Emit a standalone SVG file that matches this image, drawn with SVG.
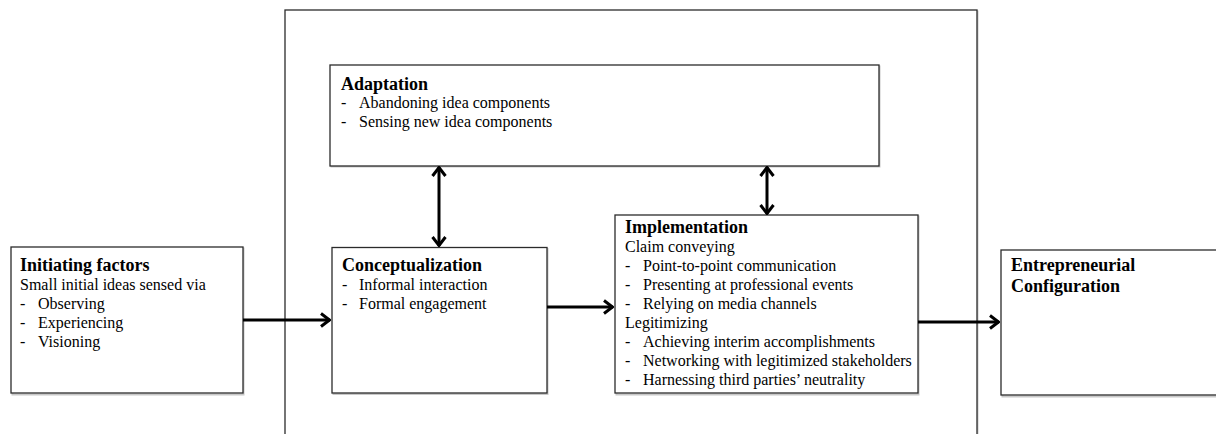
<svg xmlns="http://www.w3.org/2000/svg" width="1216" height="434" viewBox="0 0 1216 434">
<defs>
<style>
.box{fill:#fff;stroke:#2b2b2b;stroke-width:1.3}
.shadow{fill:none;stroke:#c8c8c8;stroke-width:2}
.t{font-family:"Liberation Serif","Times New Roman",serif;font-size:18px;font-weight:bold;fill:#000}
.b{font-family:"Liberation Serif","Times New Roman",serif;font-size:16px;fill:#000}
.c{stroke:#000;stroke-width:3;fill:none}
</style>
<marker id="ah" viewBox="0 0 12 16" refX="11" refY="8" markerWidth="12" markerHeight="16" markerUnits="userSpaceOnUse" orient="auto-start-reverse">
<path d="M2,1.5 L10.5,8 L2,14.5" fill="none" stroke="#000" stroke-width="3"/>
</marker>
</defs>
<rect width="1216" height="434" fill="#fff"/>
<g id="container">
<rect x="286.5" y="11.5" width="691" height="430" class="shadow"/>
<rect x="285" y="10" width="692" height="430" class="box" fill="none"/>
</g>
<g id="adaptation">
<rect x="331.5" y="66.5" width="548" height="100" class="shadow"/>
<rect x="330" y="65" width="549" height="101" class="box"/>
<text x="341" y="90" class="t">Adaptation</text>
<text x="341" y="108" class="b">-</text><text x="359" y="108" class="b">Abandoning idea components</text>
<text x="341" y="127" class="b">-</text><text x="359" y="127" class="b">Sensing new idea components</text>
</g>
<g id="initiating">
<rect x="12.5" y="248.5" width="231" height="146" class="shadow"/>
<rect x="11" y="247" width="232" height="146" class="box"/>
<text x="20" y="271" class="t">Initiating factors</text>
<text x="20" y="290" class="b">Small initial ideas sensed via</text>
<text x="20" y="309" class="b">-</text><text x="38" y="309" class="b">Observing</text>
<text x="20" y="328" class="b">-</text><text x="38" y="328" class="b">Experiencing</text>
<text x="20" y="347" class="b">-</text><text x="38" y="347" class="b">Visioning</text>
</g>
<g id="conceptualization">
<rect x="333.5" y="249" width="214" height="145" class="shadow"/>
<rect x="332" y="247.5" width="215" height="145.5" class="box"/>
<text x="342" y="271" class="t">Conceptualization</text>
<text x="342" y="290" class="b">-</text><text x="359" y="290" class="b">Informal interaction</text>
<text x="342" y="309" class="b">-</text><text x="359" y="309" class="b">Formal engagement</text>
</g>
<g id="implementation">
<rect x="616.5" y="216.5" width="302" height="178" class="shadow"/>
<rect x="615" y="215" width="303" height="178" class="box"/>
<text x="625" y="233" class="t">Implementation</text>
<text x="625" y="252" class="b">Claim conveying</text>
<text x="625" y="271" class="b">-</text><text x="643" y="271" class="b">Point-to-point communication</text>
<text x="625" y="290" class="b">-</text><text x="643" y="290" class="b">Presenting at professional events</text>
<text x="625" y="309" class="b">-</text><text x="643" y="309" class="b">Relying on media channels</text>
<text x="625" y="328" class="b">Legitimizing</text>
<text x="625" y="347" class="b">-</text><text x="643" y="347" class="b">Achieving interim accomplishments</text>
<text x="625" y="366" class="b">-</text><text x="643" y="366" class="b">Networking with legitimized stakeholders</text>
<text x="625" y="385" class="b">-</text><text x="643" y="385" class="b">Harnessing third parties’ neutrality</text>
</g>
<g id="entrepreneurial">
<rect x="1002.5" y="251.5" width="230" height="145" class="shadow"/>
<rect x="1001" y="250" width="230" height="145" class="box"/>
<text x="1011" y="271" class="t">Entrepreneurial</text>
<text x="1011" y="292" class="t">Configuration</text>
</g>
<g id="connectors">
<line x1="243" y1="320" x2="330" y2="320" class="c" marker-end="url(#ah)"/>
<line x1="547" y1="307" x2="613" y2="307" class="c" marker-end="url(#ah)"/>
<line x1="918" y1="322" x2="999" y2="322" class="c" marker-end="url(#ah)"/>
<line x1="439" y1="167" x2="439" y2="246" class="c" marker-start="url(#ah)" marker-end="url(#ah)"/>
<line x1="767" y1="167" x2="767" y2="214" class="c" marker-start="url(#ah)" marker-end="url(#ah)"/>
</g>
</svg>
